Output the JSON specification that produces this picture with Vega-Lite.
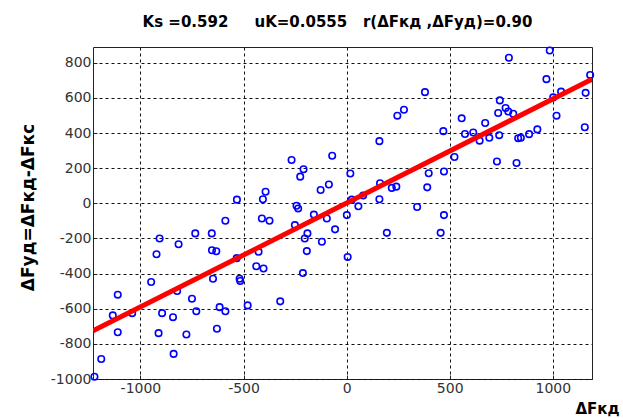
{
  "$schema": "https://vega.github.io/schema/vega-lite/v6.json",
  "width": 499,
  "height": 332,
  "autosize": "none",
  "padding": {"left": 93, "top": 47, "right": 31, "bottom": 39},
  "background": "white",
  "title": {
    "text": "Ks =0.592\u00a0\u00a0\u00a0\u00a0\u00a0uK=0.0555\u00a0\u00a0\u00a0r(ΔFкд ,ΔFуд)=0.90",
    "font": "DejaVu Sans",
    "fontSize": 15,
    "fontWeight": "bold",
    "color": "#000",
    "anchor": "middle",
    "frame": "group",
    "offset": 14,
    "dx": -5
  },
  "config": {
    "view": {"stroke": "#222", "strokeWidth": 1},
    "axis": {
      "grid": true,
      "gridColor": "#111",
      "gridDash": [3, 3],
      "gridWidth": 1,
      "gridOpacity": 1,
      "domain": false,
      "tickColor": "#222",
      "tickSize": -4,
      "labelFont": "DejaVu Sans",
      "labelFontSize": 14,
      "labelColor": "#333",
      "titleFont": "DejaVu Sans",
      "titleFontWeight": "bold",
      "titleColor": "#000",
      "titleFontSize": 15
    }
  },
  "datasets": {
    "pts": [
      {"x": -532, "y": 21}, {"x": -393, "y": 66}, {"x": -406, "y": 23}, {"x": -267, "y": 247},
      {"x": -209, "y": 194}, {"x": -225, "y": 152}, {"x": -243, "y": -14}, {"x": -235, "y": -29},
      {"x": -70, "y": 271}, {"x": -126, "y": 76}, {"x": -86, "y": 107}, {"x": 18, "y": 170},
      {"x": 25, "y": 21}, {"x": 57, "y": -17}, {"x": 80, "y": 45}, {"x": 159, "y": 23},
      {"x": 162, "y": 114}, {"x": 219, "y": 88}, {"x": 241, "y": 95}, {"x": 159, "y": 354},
      {"x": 342, "y": -21}, {"x": 246, "y": 499}, {"x": 278, "y": 533}, {"x": 380, "y": 633},
      {"x": 398, "y": 171}, {"x": 391, "y": 91}, {"x": 472, "y": 181}, {"x": 469, "y": 411},
      {"x": 523, "y": 264}, {"x": 558, "y": 484}, {"x": 574, "y": 395}, {"x": 614, "y": 403},
      {"x": 645, "y": 357}, {"x": 672, "y": 457}, {"x": 692, "y": 373}, {"x": 740, "y": 388},
      {"x": 729, "y": 238}, {"x": 735, "y": 514}, {"x": 743, "y": 586}, {"x": 771, "y": 543},
      {"x": 784, "y": 523}, {"x": 808, "y": 510}, {"x": 787, "y": 829}, {"x": 824, "y": 230},
      {"x": 832, "y": 371}, {"x": 845, "y": 373}, {"x": 885, "y": 394}, {"x": 925, "y": 421},
      {"x": 969, "y": 707}, {"x": 985, "y": 870}, {"x": 1002, "y": 603}, {"x": 1040, "y": 636},
      {"x": 1018, "y": 499}, {"x": 1159, "y": 629}, {"x": 1181, "y": 731}, {"x": 1155, "y": 433},
      {"x": -159, "y": -64}, {"x": -96, "y": -86}, {"x": 1, "y": -67}, {"x": -56, "y": -148},
      {"x": -120, "y": -219}, {"x": -190, "y": -171}, {"x": -203, "y": -200}, {"x": -193, "y": -272},
      {"x": -212, "y": -397}, {"x": 5, "y": -305}, {"x": -251, "y": -124}, {"x": -411, "y": -86},
      {"x": -374, "y": -99}, {"x": -427, "y": -276}, {"x": -438, "y": -358}, {"x": -403, "y": -371},
      {"x": -322, "y": -558}, {"x": -519, "y": -429}, {"x": -516, "y": -442}, {"x": -533, "y": -312},
      {"x": -480, "y": -581}, {"x": -588, "y": -99}, {"x": -654, "y": -171}, {"x": -653, "y": -267},
      {"x": -632, "y": -273}, {"x": -648, "y": -429}, {"x": -734, "y": -171}, {"x": -815, "y": -233},
      {"x": -907, "y": -200}, {"x": -922, "y": -290}, {"x": -948, "y": -448}, {"x": -822, "y": -499},
      {"x": -750, "y": -543}, {"x": -729, "y": -614}, {"x": -616, "y": -591}, {"x": -588, "y": -614},
      {"x": -629, "y": -714}, {"x": -895, "y": -625}, {"x": -842, "y": -648}, {"x": -912, "y": -739},
      {"x": -777, "y": -747}, {"x": -839, "y": -857}, {"x": -1040, "y": -625}, {"x": -1110, "y": -520},
      {"x": -1134, "y": -638}, {"x": -1110, "y": -734}, {"x": -1190, "y": -886}, {"x": -1223, "y": -987},
      {"x": 195, "y": -168}, {"x": 472, "y": -67}, {"x": 456, "y": -168}
    ],
    "fit": [
      {"x": -1230, "y": -726},
      {"x": 1190, "y": 706}
    ]
  },
  "layer": [
    {
      "data": {"name": "pts"},
      "mark": {"type": "point", "shape": "circle", "filled": false, "color": "#0000ff", "size": 42, "strokeWidth": 1.6, "opacity": 1},
      "encoding": {
        "x": {
          "field": "x", "type": "quantitative",
          "scale": {"domain": [-1230, 1190], "nice": false, "zero": false},
          "axis": {
            "values": [-1000, -500, 0, 500, 1000],
            "tickCount": 20,
            "labelExpr": "datum.value + ''",
            "labelOverlap": false,
            "labelPadding": 6,
            "title": "ΔFкд",
            "titleX": 504,
            "titleY": 22,
            "titleAlign": "center",
            "titleBaseline": "top",
            "titleAnchor": null
          }
        },
        "y": {
          "field": "y", "type": "quantitative",
          "scale": {"domain": [-1000, 890], "nice": false, "zero": false},
          "axis": {
            "values": [-1000, -800, -600, -400, -200, 0, 200, 400, 600, 800],
            "tickCount": 20,
            "labelExpr": "datum.value + ''",
            "labelOverlap": false,
            "labelPadding": 6,
            "title": "ΔFуд=ΔFкд-ΔFкс",
            "titleFontSize": 17,
            "titleX": -65,
            "titleY": 160,
            "titleAlign": "center",
            "titleBaseline": "middle",
            "titleAngle": -90
          }
        }
      }
    },
    {
      "data": {"name": "fit"},
      "mark": {"type": "line", "color": "#ff0000", "strokeWidth": 5, "clip": true},
      "encoding": {
        "x": {"field": "x", "type": "quantitative"},
        "y": {"field": "y", "type": "quantitative"}
      }
    }
  ]
}
